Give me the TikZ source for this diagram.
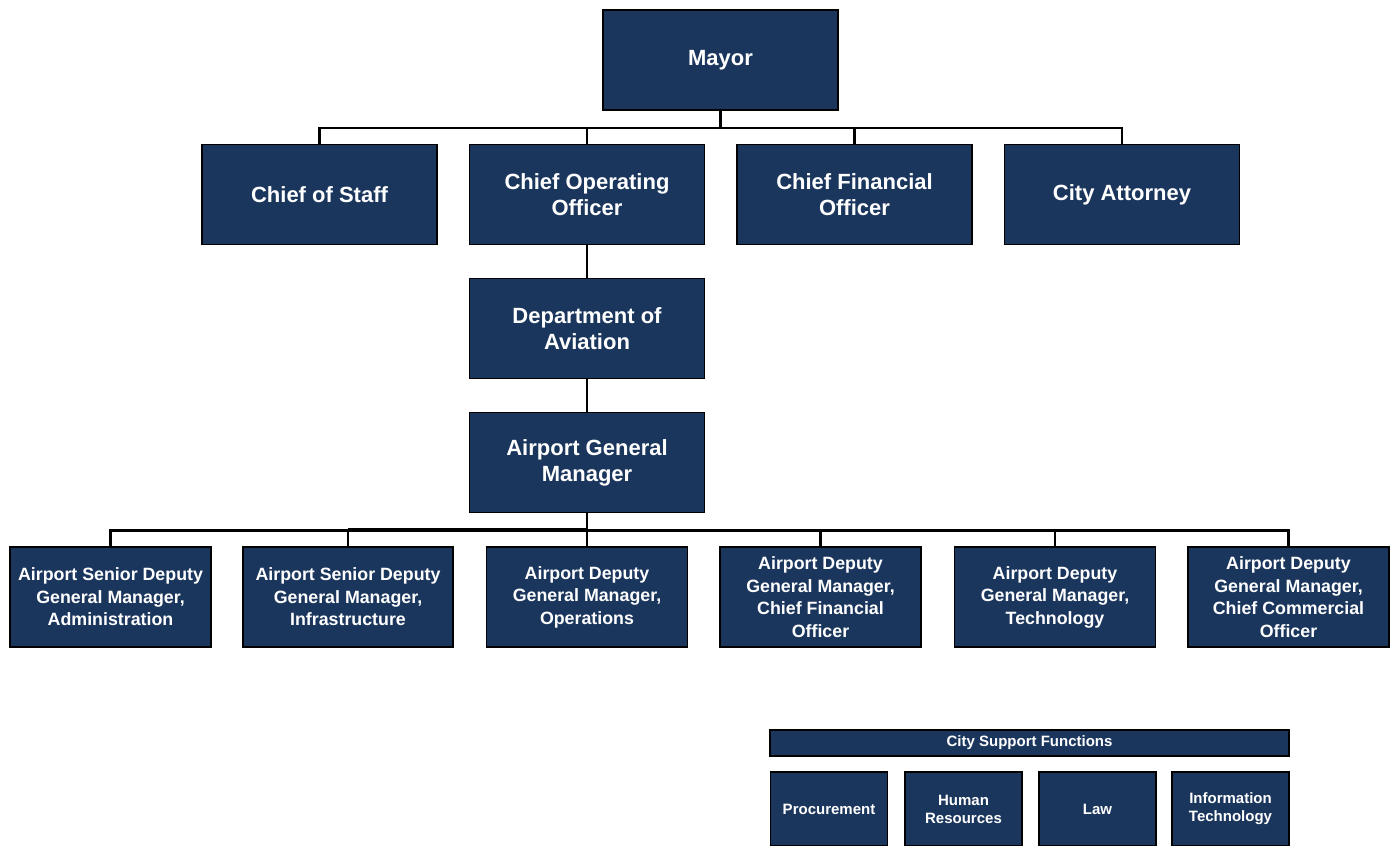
\documentclass[tikz,border=0pt]{standalone}
\usepackage{fontspec}
\setmainfont{Liberation Sans}
\definecolor{navy}{HTML}{1B365D}

\begin{document}
\begin{tikzpicture}[x=1pt,y=-1pt,
    box/.style={draw=black,line width=1.2pt,fill=navy,text=white,align=center,inner sep=0pt,
      font=\bfseries\fontsize{22}{26}\selectfont,minimum width=235pt,minimum height=100pt},
    dep/.style={box,font=\bfseries\fontsize{17.8}{22.5}\selectfont,minimum width=201pt},
    sup/.style={box,font=\bfseries\fontsize{15}{18}\selectfont,minimum width=117pt,minimum height=74pt},
    conn/.style={draw=black,line width=2.4pt}]
  \useasboundingbox (0,0) rectangle (1395,846);

  % top of the chart
  \node[box] (mayor) at (720.5,60) {Mayor};
  \node[box] (cos) at (319.5,194.5) {Chief of Staff};
  \node[box] (coo) at (587,194.5) {Chief Operating\\Officer};
  \node[box] (cfo) at (854.5,194.5) {Chief Financial\\Officer};
  \node[box] (ca) at (1122,194.5) {City Attorney};
  \node[box] (doa) at (587,328.5) {Department of\\Aviation};
  \node[box] (agm) at (587,462.5) {Airport General\\Manager};

  % deputies
  \node[dep] (adm) at (110.5,597) {Airport Senior Deputy\\General Manager,\\Administration};
  \node[dep,minimum width=210pt] (inf) at (348,597) {Airport Senior Deputy\\General Manager,\\Infrastructure};
  \node[dep] (ops) at (587,597) {Airport Deputy\\General Manager,\\Operations};
  \node[dep] (fin) at (820.5,597) {Airport Deputy\\General Manager,\\Chief Financial\\Officer};
  \node[dep] (tec) at (1055,597) {Airport Deputy\\General Manager,\\Technology};
  \node[dep] (com) at (1288.5,597) {Airport Deputy\\General Manager,\\Chief Commercial\\Officer};

  % support functions
  \node[box,font=\bfseries\fontsize{15}{18}\selectfont,minimum width=519pt,minimum height=26pt] (csf) at (1029.5,743) {City Support Functions};
  \node[sup] (pro) at (829,809) {Procurement};
  \node[sup] (hr) at (963.5,809) {Human\\Resources};
  \node[sup] (law) at (1097.5,809) {Law};
  \node[sup] (it) at (1230.5,809) {Information\\Technology};

  % connectors
  \draw[conn] (mayor.south) -- ++(0,18);
  \draw[conn] (cos.north) -- ++(0,-16) -| (ca.north);
  \foreach \n in {coo,cfo}
    \draw[conn] (\n.north) -- ++(0,-16);
  \draw[conn] (coo.south) -- (doa.north);
  \draw[conn] (doa.south) -- (agm.north);
  \draw[conn] (agm.south) -- ++(0,18);
  \draw[conn] (adm.north) -- ++(0,-16) -| (com.north);
  \foreach \n in {inf,ops,fin,tec}
    \draw[conn] (\n.north) -- ++(0,-16);
  \draw[conn,line width=4pt] ([yshift=16pt]inf.north) -- ([yshift=16pt]ops.north);
\end{tikzpicture}
\end{document}
